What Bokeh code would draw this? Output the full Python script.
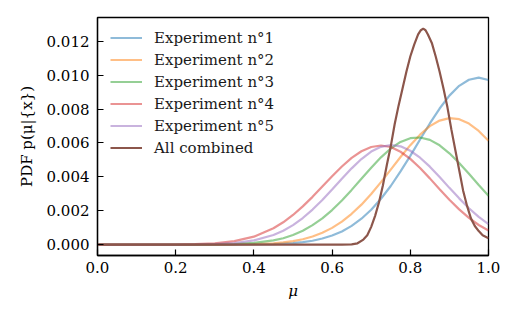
from bokeh.plotting import figure
from bokeh.models import Range1d, FixedTicker, NumeralTickFormatter, Legend, LegendItem
from bokeh.embed import file_html
from bokeh.resources import INLINE

# ---- data ----
mu = [0.0, 0.2, 0.25, 0.30, 0.35, 0.40, 0.45, 0.475, 0.50, 0.525, 0.55, 0.575,
      0.60, 0.625, 0.65, 0.675, 0.70, 0.725, 0.75, 0.775, 0.80, 0.825, 0.85,
      0.875, 0.90, 0.925, 0.95, 0.975, 1.0]

exp1 = [0, 0, 0, 0, 0, 0.00001, 0.00003, 0.00006, 0.00009, 0.00015, 0.00023, 0.00036,
        0.00054, 0.00078, 0.00111, 0.00153, 0.00206, 0.00271, 0.00346, 0.00432, 0.00524,
        0.0062, 0.00715, 0.00803, 0.00879, 0.00937, 0.00973, 0.00985, 0.00971]
exp2 = [0, 0, 0, 0, 0.00001, 0.00003, 0.00008, 0.00013, 0.00021, 0.00032, 0.00048, 0.0007,
        0.00099, 0.00136, 0.00182, 0.00236, 0.00299, 0.00369, 0.00443, 0.00517, 0.00587,
        0.00649, 0.00699, 0.00732, 0.00746, 0.0074, 0.00714, 0.00671, 0.00613]
exp3 = [0, 0, 0, 0.00001, 0.00003, 0.0001, 0.00025, 0.00038, 0.00057, 0.00082, 0.00115, 0.00155,
        0.00204, 0.00261, 0.00323, 0.00389, 0.00454, 0.00515, 0.00567, 0.00606, 0.00628,
        0.00632, 0.00618, 0.00586, 0.00539, 0.00482, 0.00418, 0.00352, 0.00288]
exp4 = [0, 0.00001, 0.00003, 0.00008, 0.00021, 0.00047, 0.00097, 0.00132, 0.00175, 0.00226, 0.00282, 0.00343,
        0.00403, 0.00461, 0.00512, 0.00551, 0.00576, 0.00585, 0.00576, 0.00548, 0.00506,
        0.00452, 0.00391, 0.00327, 0.00265, 0.00208, 0.00158, 0.00116, 0.00083]
exp5 = [0, 0, 0.00001, 0.00003, 0.00009, 0.00025, 0.00057, 0.00082, 0.00115, 0.00157, 0.00207, 0.00263,
        0.00325, 0.00389, 0.0045, 0.00505, 0.00549, 0.00577, 0.00588, 0.0058, 0.00554,
        0.00513, 0.0046, 0.00399, 0.00335, 0.00273, 0.00215, 0.00164, 0.00121]

mu_comb = [0.0, 0.5, 0.6, 0.625, 0.65, 0.665, 0.68, 0.69, 0.70, 0.71, 0.72, 0.73, 0.74, 0.75,
           0.76, 0.77, 0.78, 0.79, 0.80, 0.81, 0.82, 0.827, 0.833, 0.839, 0.845, 0.855, 0.865,
           0.875, 0.885, 0.895, 0.905, 0.915, 0.925, 0.935, 0.945, 0.955, 0.965, 0.975, 0.985, 1.0]
combined = [0, 0, 0, 0.000003, 0.00002, 0.00008, 0.0003, 0.00055, 0.00105, 0.0017, 0.0025, 0.0035,
            0.0047, 0.0058, 0.0071, 0.0082, 0.0092, 0.0102, 0.0111, 0.0118, 0.0124, 0.01265,
            0.01274, 0.01265, 0.0124, 0.0119, 0.0111, 0.0102, 0.0092, 0.0081, 0.0068, 0.0056,
            0.0044, 0.0032, 0.0023, 0.00155, 0.0011, 0.0008, 0.00055, 0.00038]

labels = ["Experiment n°1", "Experiment n°2", "Experiment n°3", "Experiment n°4",
          "Experiment n°5", "All combined"]
x_ticks = [0.0, 0.2, 0.4, 0.6, 0.8, 1.0]
y_ticks = [0.0, 0.002, 0.004, 0.006, 0.008, 0.010, 0.012]

colors = ["#1f77b4", "#ff7f0e", "#2ca02c", "#d62728", "#9467bd", "#8c564b"]
FONT = "DejaVu Serif"

p = figure(width=510, height=312, x_range=Range1d(0, 1), y_range=Range1d(-0.00064, 0.0134),
           output_backend="svg", toolbar_location=None,
           min_border_left=97, min_border_right=22, min_border_top=17, min_border_bottom=57)
p.xgrid.visible = False
p.ygrid.visible = False
p.outline_line_color = "black"
p.outline_line_width = 1.3
p.outline_line_alpha = 1.0

items = []
for ys, c, lab in zip([exp1, exp2, exp3, exp4, exp5], colors[:5], labels[:5]):
    r = p.line(mu, ys, line_color=c, line_alpha=0.5, line_width=2.2)
    items.append(LegendItem(label=lab, renderers=[r]))
r = p.line(mu_comb, combined, line_color=colors[5], line_alpha=1.0, line_width=2.2)
items.append(LegendItem(label=labels[5], renderers=[r]))

legend = Legend(items=items, location=(13, 97))
legend.background_fill_alpha = 0
legend.border_line_alpha = 0
legend.margin = 0
legend.padding = 0
legend.spacing = 1
legend.glyph_width = 32
legend.glyph_height = 21
legend.label_height = 21
legend.label_standoff = 12
legend.label_text_font = FONT
legend.label_text_font_size = "15px"
legend.label_text_color = "#1a1a1a"
p.add_layout(legend)

for ax in (p.xaxis[0], p.yaxis[0]):
    ax.major_tick_in = 6
    ax.major_tick_out = 0
    ax.minor_tick_in = 0
    ax.minor_tick_out = 0
    ax.axis_line_color = "black"
    ax.axis_line_width = 1.3
    ax.major_tick_line_color = "black"
    ax.major_tick_line_width = 1.2
    ax.major_label_text_font = FONT
    ax.major_label_text_font_size = "15px"
    ax.major_label_text_color = "black"
    ax.axis_label_text_font = FONT
    ax.axis_label_text_font_size = "15px"
    ax.axis_label_text_color = "black"

p.xaxis.ticker = FixedTicker(ticks=x_ticks)
p.yaxis.ticker = FixedTicker(ticks=y_ticks)
p.xaxis.formatter = NumeralTickFormatter(format="0.0")
p.yaxis.formatter = NumeralTickFormatter(format="0.000")
p.xaxis.major_label_standoff = 6
p.yaxis.major_label_standoff = 8
p.xaxis.axis_label = "μ"
p.xaxis.axis_label_text_font_style = "italic"
p.xaxis.axis_label_standoff = 6
p.yaxis.axis_label = "PDF p(μ|{x})"
p.yaxis.axis_label_text_font_style = "normal"
p.yaxis.axis_label_standoff = 8

open("out.html", "w").write(file_html(p, INLINE))
